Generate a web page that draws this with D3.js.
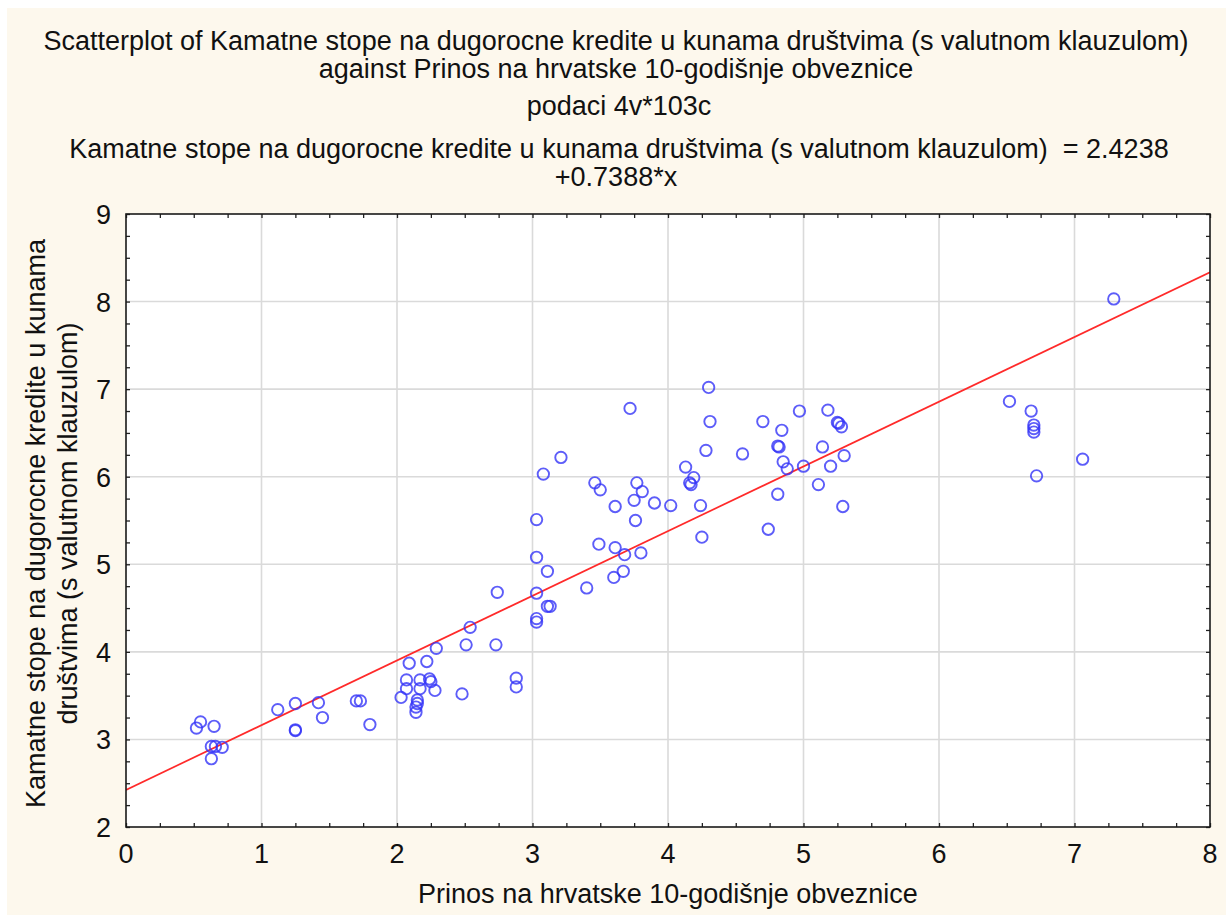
<!DOCTYPE html>
<html>
<head>
<meta charset="utf-8">
<script src="https://cdn.jsdelivr.net/npm/d3@7/dist/d3.min.js"></script>
<style>
  html, body { margin: 0; padding: 0; background: #ffffff; }
  svg { display: block; }
  text { font-family: "Liberation Sans", Arial, sans-serif; fill: #111; }
</style>
</head>
<body>
<svg id="chart" width="1226" height="915"></svg>
<script>
// ---- Data ----
const xValues = [
  0.52, 0.55, 0.65, 0.63, 0.66, 0.71, 0.63, 1.12, 1.25, 1.25,
  1.25, 1.42, 1.45, 1.70, 1.73, 1.80, 2.03, 2.09, 2.22, 2.29,
  2.07, 2.07, 2.17, 2.24, 2.25, 2.17, 2.28, 2.15, 2.15, 2.14,
  2.14, 2.48, 2.51, 2.54, 2.73, 2.88, 2.88, 2.74, 3.03, 3.08,
  3.21, 3.03, 3.11, 3.03, 3.11, 3.13, 3.03, 3.03, 3.40, 3.49,
  3.61, 3.68, 3.80, 3.60, 3.67, 3.46, 3.50, 3.61, 3.75, 3.77,
  3.81, 3.76, 3.90, 4.02, 4.13, 4.16, 4.17, 4.19, 4.24, 4.25,
  4.28, 3.72, 4.30, 4.31, 4.55, 4.70, 4.97, 5.18, 5.25, 5.26,
  5.28, 4.84, 4.81, 4.82, 5.14, 5.30, 4.85, 4.88, 5.00, 5.20,
  5.11, 4.81, 5.29, 4.74, 7.29, 6.52, 6.68, 6.70, 6.70, 6.70,
  7.06, 6.72
];
const yValues = [
  3.13, 3.20, 3.15, 2.92, 2.92, 2.91, 2.78, 3.34, 3.41, 3.10,
  3.11, 3.42, 3.25, 3.44, 3.44, 3.17, 3.48, 3.87, 3.89, 4.04,
  3.68, 3.58, 3.68, 3.69, 3.66, 3.58, 3.56, 3.45, 3.41, 3.37,
  3.31, 3.52, 4.08, 4.28, 4.08, 3.70, 3.60, 4.68, 5.51, 6.03,
  6.22, 5.08, 4.92, 4.67, 4.52, 4.52, 4.38, 4.34, 4.73, 5.23,
  5.19, 5.11, 5.13, 4.85, 4.92, 5.93, 5.85, 5.66, 5.73, 5.93,
  5.83, 5.50, 5.70, 5.67, 6.11, 5.93, 5.91, 5.99, 5.67, 5.31,
  6.30, 6.78, 7.02, 6.63, 6.26, 6.63, 6.75, 6.76, 6.62, 6.61,
  6.57, 6.53, 6.35, 6.34, 6.34, 6.24, 6.17, 6.09, 6.12, 6.12,
  5.91, 5.80, 5.66, 5.40, 8.03, 6.86, 6.75, 6.59, 6.55, 6.51,
  6.20, 6.01
];
const regIntercept = 2.4238;
const regSlope = 0.7388;
const xTicks = [0, 1, 2, 3, 4, 5, 6, 7, 8];
const yTicks = [2, 3, 4, 5, 6, 7, 8, 9];
const xDomain = [0, 8];
const yDomain = [2, 9];
const titleLines = [
  "Scatterplot of Kamatne stope na dugorocne kredite u kunama društvima (s valutnom klauzulom)",
  "against Prinos na hrvatske 10-godišnje obveznice"
];
const subtitle = "podaci 4v*103c";
const equationLines = [
  "Kamatne stope na dugorocne kredite u kunama društvima (s valutnom klauzulom)  = 2.4238",
  "+0.7388*x"
];
const xTitle = "Prinos na hrvatske 10-godišnje obveznice";
const yTitleLines = [
  "Kamatne stope na dugorocne kredite u kunama",
  "društvima (s valutnom klauzulom)"
];

// ---- Layout ----
const W = 1226, H = 915;
const plot = { left: 126, right: 1210, top: 214, bottom: 827 };
const svg = d3.select("#chart");

svg.append("rect").attr("x", 7).attr("y", 8).attr("width", W - 7).attr("height", H - 8)
  .attr("fill", "#fdf8ed");

const x = d3.scaleLinear().domain(xDomain).range([plot.left, plot.right]);
const y = d3.scaleLinear().domain(yDomain).range([plot.bottom, plot.top]);

svg.append("rect").attr("x", plot.left).attr("y", plot.top)
  .attr("width", plot.right - plot.left).attr("height", plot.bottom - plot.top)
  .attr("fill", "#ffffff");

// Grid
const grid = svg.append("g").attr("stroke", "#dadada").attr("stroke-width", 1.6);
xTicks.slice(1, -1).forEach(t => grid.append("line")
  .attr("x1", x(t)).attr("x2", x(t)).attr("y1", plot.top).attr("y2", plot.bottom));
yTicks.slice(1, -1).forEach(t => grid.append("line")
  .attr("y1", y(t)).attr("y2", y(t)).attr("x1", plot.left).attr("x2", plot.right));

// Regression line (clipped)
svg.append("clipPath").attr("id", "clip").append("rect")
  .attr("x", plot.left).attr("y", plot.top)
  .attr("width", plot.right - plot.left).attr("height", plot.bottom - plot.top);
svg.append("line").attr("clip-path", "url(#clip)")
  .attr("x1", x(xDomain[0])).attr("y1", y(regIntercept + regSlope * xDomain[0]))
  .attr("x2", x(xDomain[1])).attr("y2", y(regIntercept + regSlope * xDomain[1]))
  .attr("stroke", "#ff2a2a").attr("stroke-width", 1.7);

// Points
const pts = xValues.map((v, i) => [v, yValues[i]]);
svg.append("g").selectAll("circle").data(pts).join("circle")
  .attr("cx", d => x(d[0])).attr("cy", d => y(d[1])).attr("r", 5.7)
  .attr("fill", "none").attr("stroke", "#3434f8").attr("stroke-width", 1.9)
  .attr("stroke-opacity", 0.8);

// Axes with inward ticks (major + minor every 0.25)
const minorX = d3.range(xDomain[0], xDomain[1] + 0.001, 0.25);
const minorY = d3.range(yDomain[0], yDomain[1] + 0.001, 0.25);
const tickLen = 4;
const axisG = svg.append("g");
axisG.append("g").attr("transform", `translate(0,${plot.bottom})`)
  .call(d3.axisTop(x).tickValues(minorX).tickSize(tickLen).tickFormat(""));
axisG.append("g").attr("transform", `translate(0,${plot.top})`)
  .call(d3.axisBottom(x).tickValues(minorX).tickSize(tickLen).tickFormat(""));
axisG.append("g").attr("transform", `translate(${plot.left},0)`)
  .call(d3.axisRight(y).tickValues(minorY).tickSize(tickLen).tickFormat(""));
axisG.append("g").attr("transform", `translate(${plot.right},0)`)
  .call(d3.axisLeft(y).tickValues(minorY).tickSize(tickLen).tickFormat(""));
axisG.selectAll(".domain").remove();
axisG.selectAll(".tick line").attr("stroke", "#222").attr("stroke-width", 1.3);

// Frame
svg.append("rect").attr("x", plot.left).attr("y", plot.top)
  .attr("width", plot.right - plot.left).attr("height", plot.bottom - plot.top)
  .attr("fill", "none").attr("stroke", "#1a1a1a").attr("stroke-width", 1.6);

// Tick labels
const fs = 27;
svg.append("g").selectAll("text").data(xTicks).join("text")
  .attr("x", d => x(d)).attr("y", 863).attr("text-anchor", "middle")
  .attr("font-size", fs).text(d => d);
svg.append("g").selectAll("text").data(yTicks).join("text")
  .attr("x", 111).attr("y", d => y(d) + 10).attr("text-anchor", "end")
  .attr("font-size", fs).text(d => d);

// Titles
const cx = 616;
const titleG = svg.append("g").attr("text-anchor", "middle").attr("font-size", fs);
titleG.append("text").attr("x", cx).attr("y", 50).text(titleLines[0]);
titleG.append("text").attr("x", cx).attr("y", 78).text(titleLines[1]);
titleG.append("text").attr("x", cx + 3).attr("y", 115).text(subtitle);
titleG.append("text").attr("x", cx + 3).attr("y", 158).style("white-space", "pre").text(equationLines[0]);
titleG.append("text").attr("x", cx).attr("y", 186).text(equationLines[1]);

svg.append("text").attr("x", (plot.left + plot.right) / 2).attr("y", 903)
  .attr("text-anchor", "middle").attr("font-size", fs).text(xTitle);

const yc = (plot.top + plot.bottom) / 2 + 3;
const yT = svg.append("g").attr("text-anchor", "middle").attr("font-size", fs);
yT.append("text").attr("transform", `translate(45,${yc}) rotate(-90)`).text(yTitleLines[0]);
yT.append("text").attr("transform", `translate(77,${yc}) rotate(-90)`).text(yTitleLines[1]);
</script>
</body>
</html>
